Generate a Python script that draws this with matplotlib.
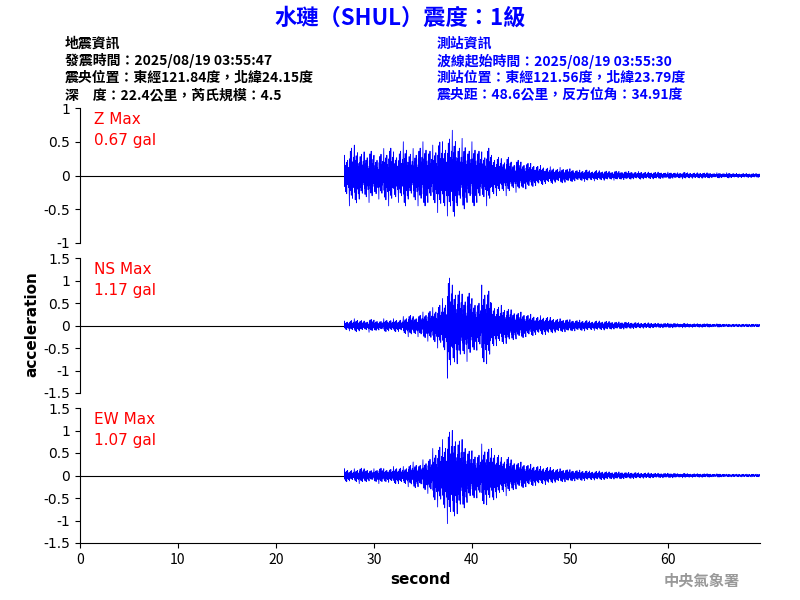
import numpy as np
import matplotlib
matplotlib.use("Agg")
import matplotlib.pyplot as plt

plt.rcParams['font.family'] = ['Noto Sans CJK TC', 'DejaVu Sans']

# peak amplitudes (gal) read every 0.5 s from 27.0 s to 69.5 s
T0, DT = 27.0, 0.5
z_amp = [0.30, 0.45, 0.45, 0.35, 0.35, 0.40, 0.30, 0.35,
         0.40, 0.45, 0.35, 0.40, 0.50, 0.35, 0.40, 0.45,
         0.50, 0.40, 0.45, 0.55, 0.50, 0.60, 0.67, 0.45,
         0.55, 0.40, 0.50, 0.40, 0.35, 0.45, 0.30, 0.30,
         0.25, 0.30, 0.20, 0.25, 0.20, 0.20, 0.18, 0.15,
         0.15, 0.12, 0.13, 0.10, 0.12, 0.10, 0.10, 0.08,
         0.08, 0.09, 0.07, 0.08, 0.07, 0.07, 0.06, 0.07, 0.06, 0.06,
         0.06, 0.05, 0.06, 0.05, 0.05, 0.05, 0.05, 0.04, 0.05, 0.04,
         0.04, 0.05, 0.04, 0.04, 0.04, 0.04, 0.04, 0.03, 0.04, 0.03,
         0.04, 0.03, 0.03, 0.03, 0.03, 0.03, 0.03, 0.03]
ns_amp = [0.10, 0.12, 0.15, 0.12, 0.10, 0.15, 0.12, 0.10,
          0.15, 0.12, 0.15, 0.13, 0.20, 0.25, 0.20, 0.25,
          0.30, 0.35, 0.40, 0.50, 0.60, 1.17, 0.90, 0.85,
          0.70, 0.80, 0.60, 0.55, 0.90, 0.85, 0.50, 0.45,
          0.45, 0.40, 0.35, 0.30, 0.30, 0.25, 0.25, 0.20,
          0.22, 0.20, 0.18, 0.15, 0.15, 0.14, 0.13, 0.12,
          0.12, 0.12, 0.10, 0.11, 0.10, 0.10, 0.09, 0.08, 0.08, 0.08,
          0.07, 0.07, 0.06, 0.06, 0.06, 0.05, 0.05, 0.05, 0.05, 0.05,
          0.04, 0.05, 0.04, 0.04, 0.04, 0.04, 0.04, 0.03, 0.04, 0.03,
          0.03, 0.03, 0.03, 0.03, 0.03, 0.03, 0.03, 0.03]
ew_amp = [0.15, 0.12, 0.15, 0.18, 0.15, 0.12, 0.15, 0.18,
          0.15, 0.15, 0.20, 0.18, 0.20, 0.25, 0.30, 0.25,
          0.35, 0.40, 0.60, 0.70, 0.80, 1.07, 1.00, 0.85,
          0.80, 0.60, 0.55, 0.50, 0.70, 0.65, 0.60, 0.50,
          0.40, 0.45, 0.35, 0.30, 0.30, 0.25, 0.25, 0.22,
          0.20, 0.20, 0.18, 0.15, 0.15, 0.14, 0.13, 0.12,
          0.12, 0.11, 0.10, 0.10, 0.10, 0.09, 0.08, 0.08, 0.08, 0.07,
          0.07, 0.07, 0.06, 0.06, 0.06, 0.05, 0.05, 0.05, 0.05, 0.05,
          0.04, 0.05, 0.04, 0.04, 0.04, 0.04, 0.04, 0.03, 0.04, 0.03,
          0.03, 0.03, 0.03, 0.03, 0.03, 0.03, 0.03, 0.03]
# drawing pattern of sub-swings within each half second (fraction of the peak)
swing = [1.0, -0.55, 0.35, -0.8, 0.5, -0.3, 0.65, -0.9, 0.25, -0.45,
         0.75, -0.35, 0.4, -0.6, 0.3, -0.5]

channels = ["Z", "NS", "EW"]
maxima = ["0.67", "1.17", "1.07"]
ylims = [1.0, 1.5, 1.5]
yticks = [[-1, -0.5, 0, 0.5, 1], [-1.5, -1, -0.5, 0, 0.5, 1, 1.5], [-1.5, -1, -0.5, 0, 0.5, 1, 1.5]]

fig = plt.figure(figsize=(8, 6), dpi=100)
W, H = 800, 600
tops = [108, 258, 408]
sw = np.array(swing)
for i, (amp, ch) in enumerate(zip([z_amp, ns_amp, ew_amp], channels)):
    ax = fig.add_axes([80 / W, 1 - (tops[i] + 135) / H, 680 / W, 135 / H])
    a = np.array(amp)
    n = len(sw)
    flip = np.where(np.arange(len(a)) % 2 == 0, 1, -1)
    tt = (T0 + DT * np.arange(len(a)))[:, None] + DT * np.arange(n)[None, :] / n
    yy = a[:, None] * sw[None, :] * flip[:, None]
    ax.plot([0, T0], [0, 0], color="black", lw=0.8)
    ax.plot(np.r_[T0, tt.ravel()], np.r_[0, yy.ravel()], color="blue", lw=0.6)
    ax.set_xlim(0, 69.4)
    ax.set_ylim(-ylims[i], ylims[i])
    ax.set_yticks(yticks[i])
    ax.set_yticklabels([f"{v:g}" for v in yticks[i]], family="DejaVu Sans")
    for s in ["top", "right"]:
        ax.spines[s].set_visible(False)
    if i < 2:
        ax.spines["bottom"].set_visible(False)
        ax.set_xticks([])
    else:
        ax.set_xticks([0, 10, 20, 30, 40, 50, 60])
        ax.set_xlabel("second", fontsize=11, fontweight="bold", family="DejaVu Sans")
    ax.text(0.02, 0.97, f"{ch} Max\n{maxima[i]} gal", transform=ax.transAxes,
            color="red", fontsize=11, va="top", family="DejaVu Sans", linespacing=1.5)

fig.text(32 / W, 0.5 - 0.04, "acceleration", rotation=90, ha="center", va="center",
         fontsize=11, fontweight="bold", family="DejaVu Sans")

fig.text(0.5, 1 - 18 / H, "水璉（SHUL）震度：1級", ha="center", va="center",
         color="blue", fontsize=16, fontweight="bold")
left = ["地震資訊", "發震時間：2025/08/19 03:55:47", "震央位置：東經121.84度，北緯24.15度",
        "深　度：22.4公里，芮氏規模：4.5"]
right = ["測站資訊", "波線起始時間：2025/08/19 03:55:30", "測站位置：東經121.56度，北緯23.79度",
         "震央距：48.6公里，反方位角：34.91度"]
for k, (l, r) in enumerate(zip(left, right)):
    y = 1 - (44 + 17 * k) / H
    fig.text(65 / W, y, l, fontsize=10, va="center", color="black", fontweight="bold")
    fig.text(437 / W, y, r, fontsize=10, va="center", color="blue", fontweight="bold")

fig.text(702 / W, 1 - 581 / H, "中央氣象署", ha="center", va="center",
         color="#999999", fontsize=11, fontweight="bold")

fig.savefig("out.png", dpi=100)
